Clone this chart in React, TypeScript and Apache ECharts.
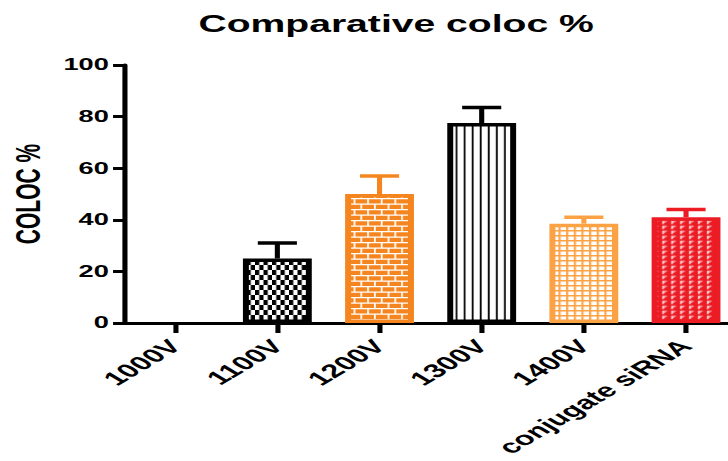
import React, { useEffect, useRef } from 'react';
import * as echarts from 'echarts';

// Data
const categories = ['1000V', '1100V', '1200V', '1300V', '1400V', 'conjugate siRNA'];
const meanValues = [0, 25, 50, 77.5, 38.5, 41];
const errorValues = [0, 6, 7, 6, 2.5, 3];
const yAxisMin = 0;
const yAxisMax = 100;
const yAxisStep = 20;

// Styling per category
const barColors = ['#000000', '#000000', '#F5861F', '#000000', '#FBA245', '#EC1C24'];
const patternKinds = ['none', 'checker', 'brick', 'stripes', 'grid', 'flags'];

const FONT = '"Liberation Sans", Arial, Helvetica, sans-serif';
const STRETCH_X = 1.7; // the figure is drawn narrow, then widened
const INNER_W = 440;
const PAGE_W = 728;
const PAGE_H = 461;

const RES = 4;

type Drawer = (ctx: CanvasRenderingContext2D) => void;

function makePattern(kind: string, color: string): any {
  let w = 5;
  let h = 5;
  let draw: Drawer = () => {};
  switch (kind) {
    case 'checker':
      w = 5; h = 10;
      draw = (ctx) => {
        ctx.fillStyle = '#ffffff';
        ctx.fillRect(0, 0, w, h);
        ctx.fillStyle = color;
        ctx.fillRect(0, 0, 2.5, 5);
        ctx.fillRect(2.5, 5, 2.5, 5);
      };
      break;
    case 'brick':
      w = 16; h = 11;
      draw = (ctx) => {
        ctx.fillStyle = color;
        ctx.fillRect(0, 0, w, h);
        ctx.fillStyle = '#ffffff';
        ctx.fillRect(0, 0, w, 1.25);
        ctx.fillRect(0, 5.5, w, 1.25);
        ctx.fillRect(0, 0, 1, 5.5);
        ctx.fillRect(8, 0, 1, 5.5);
        ctx.fillRect(4, 5.5, 1, 5.5);
        ctx.fillRect(12, 5.5, 1, 5.5);
      };
      break;
    case 'stripes':
      w = 4.75; h = 1;
      draw = (ctx) => {
        ctx.fillStyle = '#ffffff';
        ctx.fillRect(0, 0, w, h);
        ctx.fillStyle = color;
        ctx.fillRect(2, 0, 1, h);
      };
      break;
    case 'grid':
      w = 4.5; h = 5;
      draw = (ctx) => {
        ctx.fillStyle = '#ffffff';
        ctx.fillRect(0, 0, w, h);
        ctx.fillStyle = color;
        ctx.fillRect(0, 0, 1.25, h);
        ctx.fillRect(0, 0, w, 1.5);
      };
      break;
    case 'flags':
      w = 5.25; h = 5;
      draw = (ctx) => {
        ctx.fillStyle = color;
        ctx.fillRect(0, 0, w, h);
        ctx.fillStyle = '#ffffff';
        ctx.fillRect(1.25, 0.75, 0.75, 3.5);
        ctx.fillRect(1.25, 0.75, 2.5, 0.75);
        ctx.fillRect(1.25, 2.5, 1.75, 0.5);
      };
      break;
    default:
      return color;
  }
  const canvas = document.createElement('canvas');
  canvas.width = Math.round(w * RES);
  canvas.height = Math.round(h * RES);
  const ctx = canvas.getContext('2d');
  if (!ctx) return color;
  ctx.scale(RES, RES);
  draw(ctx);
  return {
    image: canvas.toDataURL(),
    repeat: 'repeat',
    imageWidth: w,
    imageHeight: h,
  };
}

export default function App() {
  const ref = useRef<HTMLDivElement>(null);

  useEffect(() => {
    if (!ref.current) return;
    const chart = echarts.init(ref.current, undefined, { renderer: 'svg' });

    const barData = meanValues.map((v, i) => ({
      value: v,
      itemStyle: {
        color: makePattern(patternKinds[i], barColors[i]),
        borderColor: barColors[i],
        borderWidth: v > 0 ? 3.5 : 0,
      },
    }));

    const errorData = meanValues.map((v, i) => [i, v, v + errorValues[i]]);

    chart.setOption({
      animation: false,
      backgroundColor: '#ffffff',
      title: {
        text: 'Comparative coloc %',
        left: 233,
        top: 13,
        padding: 0,
        textAlign: 'center',
        textStyle: { fontFamily: FONT, fontSize: 23, fontWeight: 'bold', color: '#000' },
      },
      grid: {
        left: 73,
        right: 6.4,
        top: 65,
        bottom: 138,
        containLabel: false,
        outerBoundsMode: 'none',
      },
      xAxis: {
        type: 'category',
        data: categories,
        axisLine: { show: true, lineStyle: { color: '#000', width: 3 } },
        axisTick: { show: true, alignWithLabel: true, length: 10, lineStyle: { color: '#000', width: 3 } },
        axisLabel: {
          interval: 0,
          rotate: 45,
          margin: 20,
          fontFamily: FONT,
          fontSize: 19,
          fontWeight: 'bold',
          color: '#000',
        },
        splitLine: { show: false },
      },
      yAxis: {
        type: 'value',
        min: yAxisMin,
        max: yAxisMax,
        interval: yAxisStep,
        name: 'COLOC %',
        nameLocation: 'middle',
        nameGap: 46,
        nameTextStyle: { fontFamily: FONT, fontSize: 21, fontWeight: 'bold', color: '#000' },
        axisLine: { show: true, lineStyle: { color: '#000', width: 3 } },
        axisTick: { show: true, length: 6.5, lineStyle: { color: '#000', width: 3 } },
        axisLabel: { margin: 9, fontFamily: FONT, fontSize: 16, fontWeight: 'bold', color: '#000' },
        splitLine: { show: false },
      },
      series: [
        {
          type: 'bar',
          data: barData,
          barWidth: 40.5,
          z: 2,
        },
        {
          type: 'custom',
          data: errorData,
          encode: { x: 0, y: [1, 2] },
          z: 3,
          renderItem: (_params: any, api: any) => {
            const idx = api.value(0);
            const low = api.value(1);
            const high = api.value(2);
            if (!(high > low)) return null;
            const base = api.coord([idx, low]);
            const top = api.coord([idx, high]);
            const color = barColors[idx];
            const half = 11.5;
            return {
              type: 'group',
              children: [
                {
                  type: 'line',
                  shape: { x1: base[0], y1: base[1], x2: base[0], y2: top[1] },
                  style: { stroke: color, lineWidth: 3 },
                },
                {
                  type: 'line',
                  shape: { x1: base[0] - half, y1: top[1], x2: base[0] + half, y2: top[1] },
                  style: { stroke: color, lineWidth: 3.5 },
                },
              ],
            };
          },
        },
      ],
    });

    return () => {
      chart.dispose();
    };
  }, []);

  return (
    <div
      style={{
        position: 'fixed',
        left: 0,
        top: 0,
        width: PAGE_W,
        height: PAGE_H,
        overflow: 'hidden',
        background: '#ffffff',
      }}
    >
      <div
        ref={ref}
        style={{
          width: INNER_W,
          height: PAGE_H,
          transform: `scaleX(${STRETCH_X})`,
          transformOrigin: '0 0',
        }}
      />
    </div>
  );
}
